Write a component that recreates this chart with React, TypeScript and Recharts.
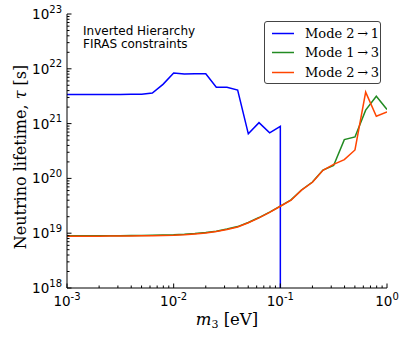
import React from 'react';
import { LineChart, Line, XAxis, YAxis, Legend, Customized } from 'recharts';

// m3 grid (eV), 10 points per decade
const massEv = [
  0.001, 0.00126, 0.00158, 0.002, 0.00251, 0.00316, 0.00398, 0.00501, 0.00631, 0.00794,
  0.01, 0.0126, 0.0158, 0.02, 0.0251, 0.0316, 0.0398, 0.0501, 0.0631, 0.0794,
  0.1, 0.126, 0.158, 0.2, 0.251, 0.316, 0.398, 0.501, 0.631, 0.794, 1,
];

// Mode 2 -> 1 stops at 0.1 eV and drops to the floor
const mass21 = [
  0.001, 0.00126, 0.00158, 0.002, 0.00251, 0.00316, 0.00398, 0.00501, 0.00631, 0.00794,
  0.01, 0.0126, 0.0158, 0.02, 0.0251, 0.0316, 0.0398, 0.0501, 0.0631, 0.0794,
  0.1, 0.1,
];
const tau21 = [
  3.4e21, 3.4e21, 3.4e21, 3.4e21, 3.4e21, 3.4e21, 3.42e21, 3.45e21, 3.6e21, 5.2e21,
  8.4e21, 8.0e21, 8.1e21, 8.1e21, 4.6e21, 4.6e21, 4.1e21, 6.5e20, 1.04e21, 6.8e20,
  8.9e20, 1e18,
];

const tau13 = [
  8.95e18, 8.95e18, 8.95e18, 8.97e18, 9.0e18, 9.02e18, 9.05e18, 9.1e18, 9.15e18, 9.25e18,
  9.35e18, 9.55e18, 9.85e18, 1.03e19, 1.09e19, 1.19e19, 1.32e19, 1.57e19, 1.93e19, 2.43e19,
  3.13e19, 4.05e19, 6.15e19, 8.6e19, 1.42e20, 1.72e20, 5.1e20, 5.7e20, 1.76e21, 3.16e21,
  1.81e21,
];

const tau23 = [
  8.8e18, 8.8e18, 8.8e18, 8.82e18, 8.85e18, 8.88e18, 8.9e18, 8.95e18, 9.0e18, 9.1e18,
  9.2e18, 9.4e18, 9.7e18, 1.01e19, 1.07e19, 1.17e19, 1.3e19, 1.55e19, 1.9e19, 2.4e19,
  3.1e19, 4.0e19, 6.1e19, 8.5e19, 1.41e20, 1.8e20, 2.2e20, 3.3e20, 3.75e21, 1.36e21,
  1.64e21,
];

const xDecades = [0.001, 0.01, 0.1, 1];
const yDecades = [1e18, 1e19, 1e20, 1e21, 1e22, 1e23];

const seriesNames = ['Mode 2\u2009\u2192\u20091', 'Mode 1\u2009\u2192\u20093', 'Mode 2\u2009\u2192\u20093'];
const seriesColors = ['#0000ff', '#228b22', '#ff4500'];

const data21 = mass21.map((m, i) => ({ m3: m, tau: tau21[i] }));
const data13 = massEv.map((m, i) => ({ m3: m, tau: tau13[i] }));
const data23 = massEv.map((m, i) => ({ m3: m, tau: tau23[i] }));

// major + minor ticks for a log axis
const withMinor = (decades: number[]) => {
  const out: number[] = [];
  decades.forEach((d, i) => {
    out.push(d);
    if (i < decades.length - 1) for (let k = 2; k <= 9; k++) out.push(d * k);
  });
  return out;
};
const xTicks = withMinor(xDecades);
const yTicks = withMinor(yDecades);

const W = 407;
const H = 339;
const LEFT = 67;
const RIGHT = 387;
const TOP = 14;
const BOTTOM = 288;

const isDecade = (v: number) => Math.abs(Math.log10(v) - Math.round(Math.log10(v))) < 1e-6;
const expOf = (v: number) => Math.round(Math.log10(v));

const tickFont = { fontFamily: 'DejaVu Sans', fill: '#000' };

const BottomTick = (props: any) => {
  const { x, payload } = props;
  const major = isDecade(payload.value);
  return (
    <g>
      <line x1={x} x2={x} y1={BOTTOM} y2={BOTTOM - (major ? 4.5 : 2.5)} stroke="#000" />
      {major && (
        <text x={x} y={306} textAnchor="middle" fontSize={13.5} {...tickFont}>
          10<tspan dy={-6.5} fontSize={10}>{expOf(payload.value)}</tspan>
        </text>
      )}
    </g>
  );
};

const TopTick = (props: any) => {
  const { x, payload } = props;
  const major = isDecade(payload.value);
  return <line x1={x} x2={x} y1={TOP} y2={TOP + (major ? 4.5 : 2.5)} stroke="#000" />;
};

const LeftTick = (props: any) => {
  const { y, payload } = props;
  const major = isDecade(payload.value);
  return (
    <g>
      <line x1={LEFT} x2={LEFT + (major ? 4.5 : 2.5)} y1={y} y2={y} stroke="#000" />
      {major && (
        <text x={62} y={y + 5} textAnchor="end" fontSize={13.5} {...tickFont}>
          10<tspan dy={-6.5} fontSize={10}>{expOf(payload.value)}</tspan>
        </text>
      )}
    </g>
  );
};

const RightTick = (props: any) => {
  const { y, payload } = props;
  const major = isDecade(payload.value);
  return <line x1={RIGHT} x2={RIGHT - (major ? 4.5 : 2.5)} y1={y} y2={y} stroke="#000" />;
};

const Texts = () => (
  <g>
    <text x={83} y={35} fontFamily="DejaVu Sans" fontSize={12} fill="#000">Inverted Hierarchy</text>
    <text x={83} y={48} fontFamily="DejaVu Sans" fontSize={12} fill="#000">FIRAS constraints</text>
    <text
      transform="translate(26,157) rotate(-90)"
      textAnchor="middle"
      fontFamily="DejaVu Serif"
      fontSize={16}
      fill="#000"
    >
      Neutrino lifetime, <tspan fontStyle="italic">τ</tspan> [s]
    </text>
    <text x={227} y={325} textAnchor="middle" fontFamily="DejaVu Serif" fontSize={16.5} fill="#000">
      <tspan fontStyle="italic">m</tspan>
      <tspan fontSize={11} dy={3}>3</tspan>
      <tspan dy={-3}> [eV]</tspan>
    </text>
  </g>
);

const LegendBox = () => (
  <div
    style={{
      position: 'relative',
      width: 117,
      height: 63,
      border: '1px solid #444',
      borderRadius: 3,
      background: '#fff',
      boxSizing: 'border-box',
    }}
  >
    {seriesNames.map((name, i) => (
      <div key={name} style={{ position: 'absolute', left: 0, top: 2 + i * 19.3, height: 19, width: 115 }}>
        <svg width={30} height={19} style={{ position: 'absolute', left: 6, top: 0 }}>
          <line x1={1} x2={23} y1={9.5} y2={9.5} stroke={seriesColors[i]} strokeWidth={1.5} />
        </svg>
        <span
          style={{
            position: 'absolute',
            left: 40,
            top: 1,
            fontFamily: 'DejaVu Serif',
            fontSize: 13,
            lineHeight: '17px',
            whiteSpace: 'nowrap',
          }}
        >
          {name}
        </span>
      </div>
    ))}
  </div>
);

export default function App() {
  return (
    <div style={{ position: 'absolute', left: 0, top: 0, width: W, height: H, background: '#fff' }}>
      <LineChart width={W} height={H} margin={{ top: TOP, right: W - RIGHT, bottom: 0, left: 0 }}>
        <XAxis
          dataKey="m3"
          type="number"
          scale="log"
          domain={[0.001, 1]}
          allowDataOverflow
          ticks={xTicks}
          interval={0}
          height={H - BOTTOM}
          tickLine={false}
          axisLine={{ stroke: '#000' }}
          tick={<BottomTick />}
        />
        <XAxis
          xAxisId="top"
          orientation="top"
          dataKey="m3"
          type="number"
          scale="log"
          domain={[0.001, 1]}
          allowDataOverflow
          ticks={xTicks}
          interval={0}
          height={0}
          tickLine={false}
          axisLine={{ stroke: '#000' }}
          tick={<TopTick />}
        />
        <YAxis
          type="number"
          scale="log"
          domain={[1e18, 1e23]}
          allowDataOverflow
          ticks={yTicks}
          interval={0}
          width={LEFT}
          tickLine={false}
          axisLine={{ stroke: '#000' }}
          tick={<LeftTick />}
        />
        <YAxis
          yAxisId="right"
          orientation="right"
          type="number"
          scale="log"
          domain={[1e18, 1e23]}
          allowDataOverflow
          ticks={yTicks}
          interval={0}
          width={0}
          tickLine={false}
          axisLine={{ stroke: '#000' }}
          tick={<RightTick />}
        />
        <Line
          data={data23}
          dataKey="tau"
          xAxisId="top"
          yAxisId="right"
          stroke="none"
          dot={false}
          activeDot={false}
          isAnimationActive={false}
        />
        <Line data={data21} dataKey="tau" name={seriesNames[0]} type="linear" stroke={seriesColors[0]} strokeWidth={1.5} dot={false} isAnimationActive={false} />
        <Line data={data13} dataKey="tau" name={seriesNames[1]} type="linear" stroke={seriesColors[1]} strokeWidth={1.5} dot={false} isAnimationActive={false} />
        <Line data={data23} dataKey="tau" name={seriesNames[2]} type="linear" stroke={seriesColors[2]} strokeWidth={1.5} dot={false} isAnimationActive={false} />
        <Legend
          layout="vertical"
          align="center"
          verticalAlign="middle"
          content={<LegendBox />}
          wrapperStyle={{ left: 264, top: 21, width: 117, height: 63 }}
        />
        <Customized component={<Texts />} />
      </LineChart>
    </div>
  );
}
